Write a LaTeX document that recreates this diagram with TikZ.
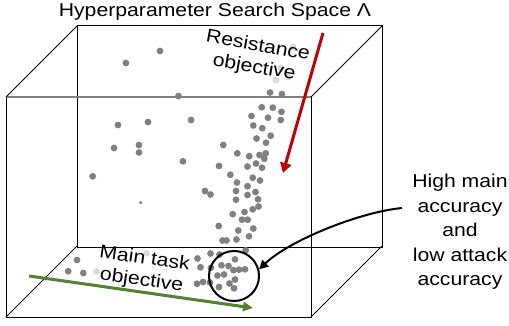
\documentclass[tikz,border=0pt]{standalone}
\usepackage{fontspec}
\setmainfont{Liberation Sans}[FakeStretch=1.14]
\usetikzlibrary{arrows.meta}
\definecolor{dotgray}{HTML}{808080}
\definecolor{resred}{HTML}{C00000}
\definecolor{taskgreen}{HTML}{548235}
\tikzset{
  box/.style={line width=1pt},
  lbl/.style={font=\fontsize{18.6}{22}\selectfont, inner sep=0pt, align=center},
}
\begin{document}
\begin{tikzpicture}[x=1pt,y=-1pt]
\useasboundingbox (0,0) rectangle (509,325);

%draw back box
\draw[box] (77,25) rectangle (382,247);
%draw front box
\draw[box] (6,97) -- (6,317) -- (311,317) -- (311,97);
\draw[line width=1.5pt, color=dotgray] (6,97) -- (311,97);
%draw depth lines
\foreach \x/\y in {6/97,311/97,6/317,311/317}
\draw[box] (\x,\y) -- (\x+71,\y-71);

%draw points
\foreach \x/\y in {126/63,160/51,178.5/96,118/125,148/122,191/120,114/148,139/145,139/152.5,
  92.7/176.3,183/161.3,205/191,210.5/194.5,219/166,223.3/145,230.3/174.7,237.3/153.3,237/182.5,
  236/191,236/199.7,247.5/186.2,247.5/195,249.2/156.2,247.5/166.5,252.7/177.7,255.5/192,258/199.3,
  252.7/209.3,258.5/206.5,244.5/212,232.7/214.2,242/219.7,247.7/219.7,256/163.5,262/167.7,
  260/180.5,259.5/155,265.7/153.3,264.3/158.7,256.5/138.5,266/142.7,270.7/135.7,253.3/125.5,
  262.3/128.2,251.5/116,268/117.7,280.8/120,261.7/107.3,272.8/107.7,281.5/111.8,270/92.5,282/94,
  218.7/226,238.3/230.5,253.3/228.5,222.5/240.5,226.5/240.5,236.5/239.5,249/236.3,245.7/250.3}
\fill[dotgray] (\x,\y) circle (3.4);
\foreach \x/\y in {77/260,68.2/271.2,83.3/273,197.5/258.5,210.5/253.5,219.5/254.5,235/259.3,
  200.5/267.3,211/267.8,221.5/265.3,228.5/266,233.5/270.2,239/269.7,245/269.3,217.5/275.5,
  224/274.5,235/279.5,229.5/283.5,197/283.7,203/282,210/282.5,219/287,234/288.3}
\fill[dotgray] (\x,\y) circle (3.4);
\fill[dotgray] (140.7,202.7) circle (1.7);
\foreach \x/\y in {96.5/271.5,146.7/253.3,293/47,281/68,276/80,288/77}
\fill[dotgray!30] (\x,\y) circle (3.4);

%labels
\node[lbl, anchor=base] (title) at (215,16) {Hyperparameter Search Space Λ};
\node[lbl, rotate=-10] (resist) at (256,57) {Resistance\\objective};
\node[lbl, rotate=-8] (task) at (143,270) {Main task\\objective};
\node[lbl, font=\fontsize{18.6}{24.5}\selectfont] (goal) at (460,232)
  {High main\\accuracy\\and\\low attack\\accuracy};

%selected region
\node[draw, circle, line width=2pt, minimum size=50pt, inner sep=0pt] (sel) at (234,276) {};

%objective arrows
\coordinate (rtop) at (323,33);
\coordinate (rbot) at (283,173);
\draw[line width=3pt, resred, -{Triangle[length=10pt,width=11pt]}] (rtop) -- (rbot);
\coordinate (gleft) at (29,276);
\coordinate (gright) at (253,308);
\draw[line width=3pt, taskgreen, -{Triangle[length=10pt,width=9pt]}] (gleft) -- (gright);

%pointer to region
\coordinate (tail) at (402,208);
\draw[line width=2pt, -{Triangle[length=9pt,width=9pt]}] (tail) .. controls (360,212) and (290,240) .. (sel.15);

\end{tikzpicture}
\end{document}
